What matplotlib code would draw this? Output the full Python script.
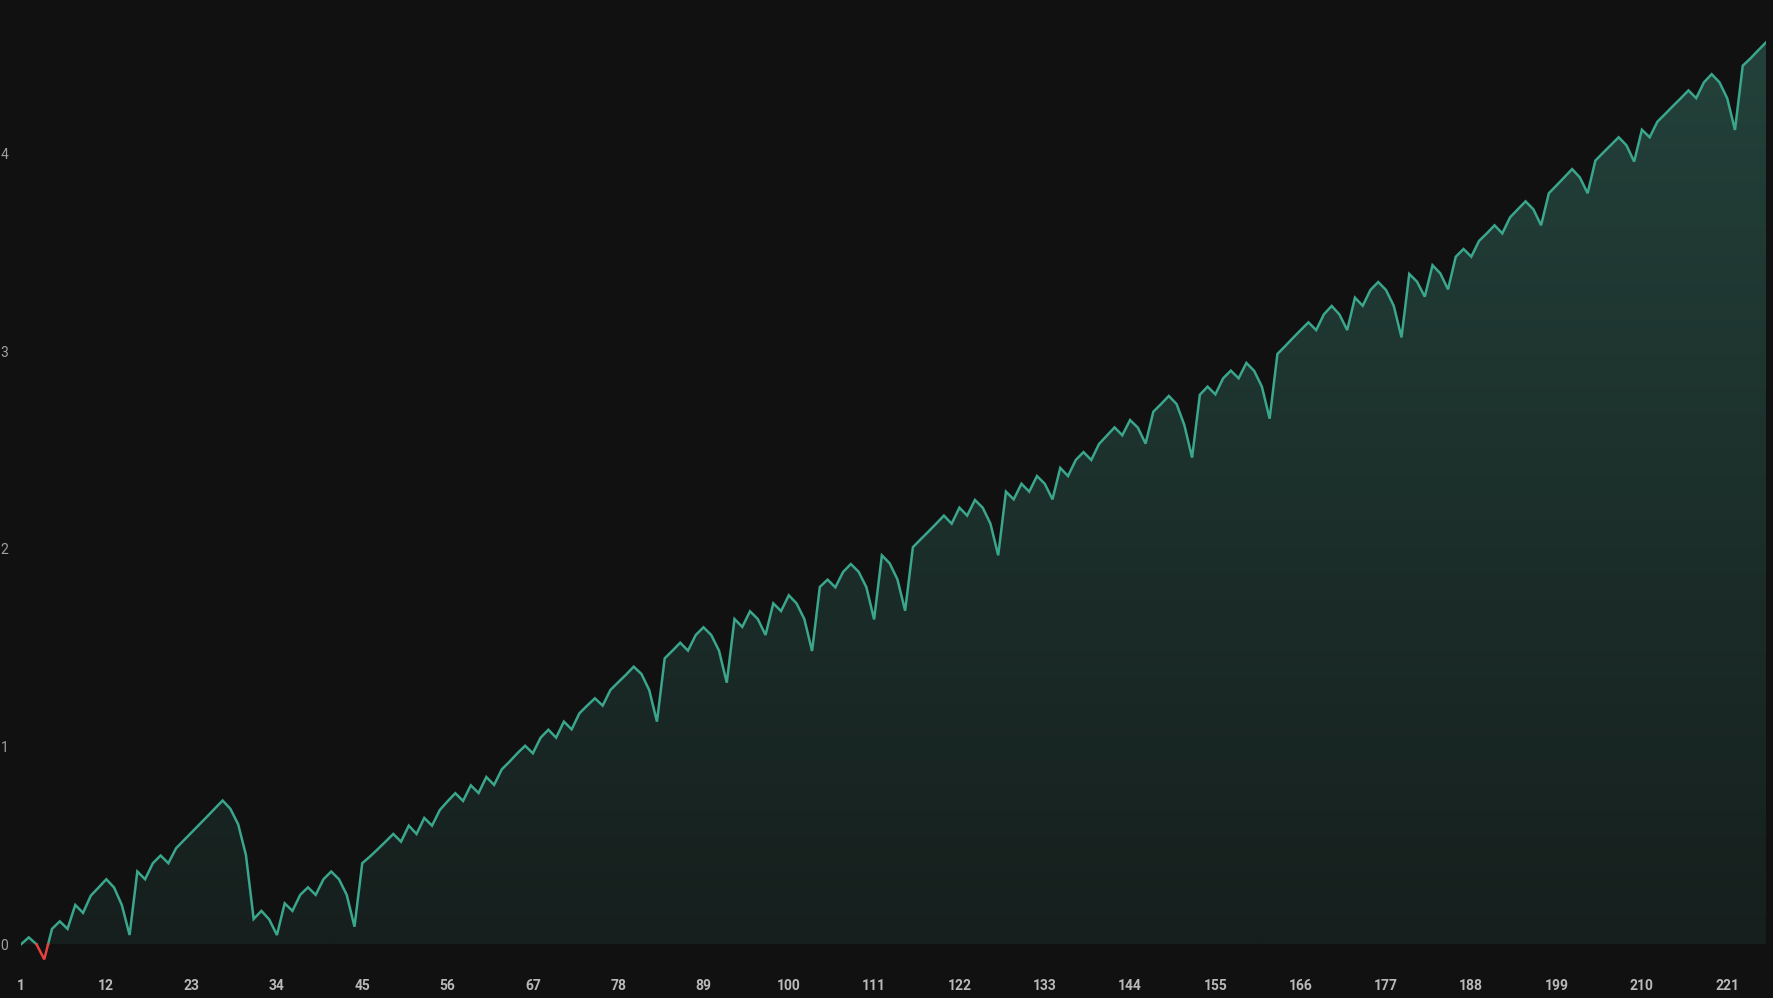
import numpy as np
import matplotlib
matplotlib.use("Agg")
import matplotlib.pyplot as plt
from matplotlib.path import Path

plt.rcParams['font.family'] = ['Roboto', 'DejaVu Sans']

# cumulative value per step
values = [
    0.000, 0.035, 0.000, -0.076, 0.078, 0.116, 0.078, 0.199, 0.159, 0.246,
    0.287, 0.329, 0.287, 0.199, 0.047, 0.368, 0.329, 0.410, 0.449, 0.410,
    0.486, 0.526, 0.566, 0.606, 0.646, 0.687, 0.727, 0.685, 0.607, 0.452,
    0.128, 0.169, 0.126, 0.047, 0.207, 0.169, 0.250, 0.288, 0.250, 0.329,
    0.368, 0.329, 0.250, 0.089, 0.410, 0.444, 0.481, 0.519, 0.558, 0.519,
    0.600, 0.558, 0.639, 0.600, 0.679, 0.723, 0.764, 0.725, 0.804, 0.765,
    0.846, 0.806, 0.885, 0.924, 0.966, 1.004, 0.966, 1.045, 1.085, 1.045,
    1.126, 1.087, 1.168, 1.207, 1.244, 1.207, 1.286, 1.325, 1.363, 1.404,
    1.367, 1.286, 1.126, 1.446, 1.485, 1.525, 1.485, 1.564, 1.603, 1.564,
    1.485, 1.323, 1.645, 1.605, 1.684, 1.645, 1.564, 1.724, 1.685, 1.765,
    1.724, 1.645, 1.483, 1.807, 1.844, 1.805, 1.883, 1.923, 1.884, 1.806,
    1.643, 1.967, 1.927, 1.846, 1.687, 2.008, 2.048, 2.087, 2.127, 2.168,
    2.127, 2.208, 2.168, 2.247, 2.208, 2.127, 1.967, 2.289, 2.250, 2.329,
    2.289, 2.368, 2.329, 2.250, 2.409, 2.368, 2.449, 2.489, 2.449, 2.530,
    2.572, 2.614, 2.574, 2.651, 2.613, 2.532, 2.693, 2.732, 2.773, 2.732,
    2.626, 2.461, 2.779, 2.820, 2.781, 2.862, 2.901, 2.862, 2.940, 2.900,
    2.820, 2.658, 2.985, 3.025, 3.066, 3.106, 3.145, 3.106, 3.186, 3.228,
    3.185, 3.106, 3.270, 3.229, 3.309, 3.349, 3.309, 3.229, 3.069, 3.390,
    3.351, 3.275, 3.434, 3.393, 3.312, 3.477, 3.516, 3.477, 3.557, 3.595,
    3.636, 3.595, 3.676, 3.717, 3.757, 3.717, 3.636, 3.798, 3.838, 3.879,
    3.920, 3.878, 3.798, 3.963, 4.003, 4.042, 4.081, 4.041, 3.958, 4.119,
    4.081, 4.160, 4.199, 4.239, 4.278, 4.318, 4.279, 4.359, 4.400, 4.359,
    4.278, 4.118, 4.443, 4.480, 4.521, 4.561,
]
steps = np.arange(1, len(values) + 1)
x_ticks = list(range(1, len(values) + 1, 11))
y_ticks = [0, 1, 2, 3, 4]

BG = "#111111"
GREEN = "#3aa68c"
RED = "#e5413f"

x = steps.astype(float)
y = np.array(values)

# insert zero crossings so the colour switch happens exactly at 0
xs, ys = [x[0]], [y[0]]
for i in range(1, len(x)):
    if (y[i - 1] < 0 < y[i]) or (y[i - 1] > 0 > y[i]):
        t = y[i - 1] / (y[i - 1] - y[i])
        xs.append(x[i - 1] + t * (x[i] - x[i - 1]))
        ys.append(0.0)
    xs.append(x[i])
    ys.append(y[i])
xs = np.array(xs)
ys = np.array(ys)

fig = plt.figure(figsize=(17.74, 9.98), dpi=100, facecolor=BG)
ax = fig.add_axes([21 / 1774, 1 - 968 / 998, (1766 - 21) / 1774, 968 / 998])
ax.set_facecolor(BG)

ymin = -(968 - 944.3) / 197.75
ymax = 944.3 / 197.75
ax.set_xlim(1, len(values))
ax.set_ylim(ymin, ymax)

# gradient fill under the positive part, clipped to the area polygon
ypos = np.clip(ys, 0, None)
px = np.r_[xs[0], xs, xs[-1], xs[0]]
py = np.r_[0, ypos, 0, 0]
clip = Path(np.column_stack([px, py]), closed=True)

bottom_c = np.array([0x16, 0x1f, 0x1d]) / 255
top_c = np.array([0x23, 0x41, 0x3a]) / 255
n = 256
t = np.linspace(0, 1, n)[:, None]
grad = bottom_c[None, :] * (1 - t) + top_c[None, :] * t
grad = grad[::-1][:, None, :].repeat(2, axis=1)
img = ax.imshow(grad, extent=[1, len(values), 0, max(values)], aspect="auto",
                origin="upper", zorder=1, interpolation="bilinear")
img.set_clip_path(clip, transform=ax.transData)

pos = np.where(ys >= 0, ys, np.nan)
neg = np.where(ys <= 0, ys, np.nan)
ax.plot(xs, pos, color=GREEN, lw=1.8, zorder=3, solid_joinstyle="miter")
ax.plot(xs, neg, color=RED, lw=1.8, zorder=3, solid_joinstyle="miter")

ax.set_xticks(x_ticks)
ax.set_xticklabels([str(v) for v in x_ticks], color="#b9b9b9",
                   fontsize=10, fontweight="bold")
ax.set_yticks(y_ticks)
ax.set_yticklabels([str(v) for v in y_ticks], color="#a0a0a0", fontsize=10)
ax.tick_params(axis="x", length=0, pad=8)
ax.tick_params(axis="y", length=0, pad=9)
for s in ax.spines.values():
    s.set_visible(False)

fig.savefig("out.png", dpi=100, facecolor=BG)
